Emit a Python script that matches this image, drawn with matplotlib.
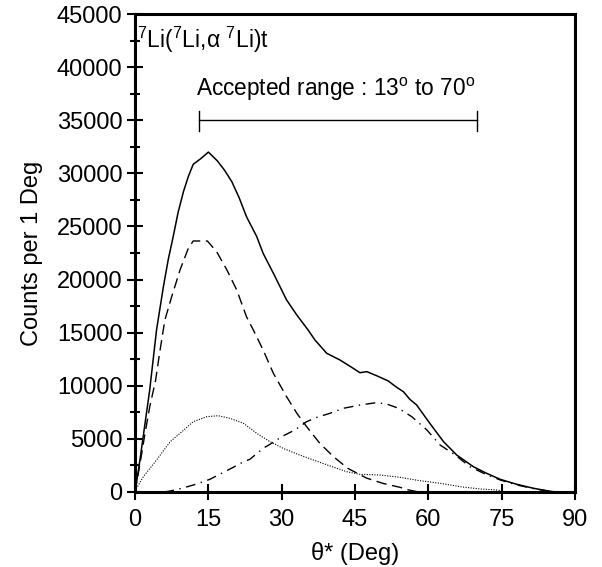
import matplotlib
matplotlib.use("Agg")
import matplotlib.pyplot as plt
from matplotlib.ticker import MultipleLocator

plt.rcParams['font.family'] = ['Liberation Sans', 'DejaVu Sans']
plt.rcParams['mathtext.fontset'] = 'custom'
plt.rcParams['mathtext.rm'] = 'Liberation Sans'
plt.rcParams['mathtext.it'] = 'Liberation Sans:italic'

# total yield (solid)
total_theta = [0, 1, 2, 3, 4.4, 5.8, 6.8, 7.8, 8.8, 9.9, 10.9, 11.9, 13.5, 15.0, 16.8,
               18.3, 19.8, 21.3, 22.8, 24.9, 26.2, 28.3, 31.0, 33.1, 35.4, 36.8, 39.2,
               41.9, 44.3, 46.0, 47.4, 49.4, 51.8, 53.5, 54.9, 56.2, 57.6, 60.3, 63.1,
               65.8, 69.2, 71.9, 74.7, 78.1, 81.5, 84.2, 86, 90]
total_counts = [0, 3000, 6300, 9600, 15250, 19330, 21900, 24030, 26300, 28270, 29700, 30850,
                31400, 32000, 31190, 30300, 29210, 27700, 25920, 24040, 22470, 20590, 18080,
                16660, 15250, 14310, 13060, 12430, 11740, 11230, 11330, 10950, 10450, 9860,
                9440, 8730, 8190, 6460, 4740, 3480, 2380, 1760, 1190, 720, 350, 120, 0, 0]

# dashed component
dash_theta = [0, 1, 2, 3, 4.2, 5, 6.1, 7.5, 9.2, 10.9, 11.9, 14.8, 16.7, 18.8, 20.8, 22.8,
              24.2, 26.2, 28.3, 31.0, 33.1, 35.1, 37.8, 40.6, 43.5, 47.4, 50.8, 54.2, 56, 58]
dash_counts = [0, 2600, 5400, 8000, 10500, 13000, 16190, 18390, 20900, 22940, 23630, 23630,
               22620, 20900, 19020, 16500, 15250, 13370, 11170, 8970, 7410, 6150, 4580, 3320,
               2230, 1300, 800, 440, 190, 0]

# dotted component
dot_theta = [0, 1.7, 4.4, 7.2, 9.2, 11.9, 14.7, 17.0, 19.4, 22.2, 24.9, 27.6, 30.3, 33.1,
             36.5, 39.9, 43.3, 46.0, 50.1, 54.2, 58.3, 62.4, 66.5, 70.6, 74.0, 76]
dot_counts = [100, 1440, 3010, 4740, 5520, 6620, 7090, 7180, 6940, 6460, 5520, 4740, 4110,
              3580, 3010, 2450, 1910, 1660, 1600, 1380, 1060, 820, 500, 280, 190, 0]

# dash-dot component
dd_theta = [6, 7.5, 10, 12.6, 15.3, 17.4, 20, 22.2, 23.5, 26.2, 28.3, 30, 32.7, 35.1, 37.2,
            39.9, 42.6, 44.3, 46, 49.4, 51.5, 53.9, 56.6, 59.7, 62.4, 65.5, 68.5, 71.3, 74.7,
            78.1, 82.2, 85, 87]
dd_counts = [0, 120, 400, 750, 1190, 1690, 2300, 2850, 3080, 4110, 4680, 5210, 5840, 6620,
             7030, 7410, 7880, 8030, 8190, 8410, 8280, 7880, 7090, 5840, 4420, 3480, 2380,
             1760, 1130, 660, 250, 60, 0]

range_lo, range_hi = 13, 70

fig = plt.figure(figsize=(6.02, 5.67), dpi=100)
ax = fig.add_axes([0.2243, 0.1323, 0.7309, 0.8430])

ax.plot(total_theta, total_counts, color='black', lw=1.1)
ax.plot(dash_theta, dash_counts, color='black', lw=1.0, linestyle=(0, (7.5, 4)))
ax.plot(dot_theta, dot_counts, color='black', lw=0.8, linestyle=(0, (1, 1.3)))
ax.plot(dd_theta, dd_counts, color='black', lw=1.0, linestyle=(0, (7, 4, 1, 4)))

# accepted range bar
ax.plot([range_lo, range_hi], [35000, 35000], color='black', lw=1.0)
for xe in (range_lo, range_hi):
    ax.plot([xe, xe], [34000, 35900], color='black', lw=1.0)
ax.text(12.5, 37300, r'Accepted range : 13$^{\rm o}$ to 70$^{\rm o}$', fontsize=16.3,
        va='baseline', ha='left')
ax.text(0.5, 41800, r'$^{7}$Li($^{7}$Li,α $^{7}$Li)t', fontsize=16.5, va='baseline', ha='left')

ax.set_xlim(0, 90)
ax.set_ylim(0, 45000)
ax.xaxis.set_major_locator(MultipleLocator(15))
ax.yaxis.set_major_locator(MultipleLocator(5000))
ax.yaxis.set_minor_locator(MultipleLocator(2500))
ax.tick_params(which='major', direction='inout', length=12, width=1.5, labelsize=17, pad=3)
ax.tick_params(which='minor', direction='inout', length=7, width=1.5)
ax.tick_params(axis='x', pad=6)

for s in ax.spines.values():
    s.set_linewidth(2.2)

ax.set_xlabel('θ* (Deg)', fontsize=17, labelpad=8)
ax.set_ylabel('Counts per 1 Deg', fontsize=17, labelpad=10)

fig.savefig('out.png', dpi=100)
